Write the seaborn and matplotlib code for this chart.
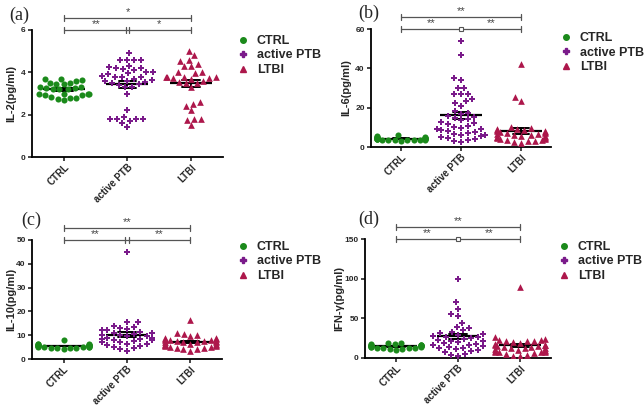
"""
Cytokine levels (IL-2, IL-6, IL-10, IFN-g) in CTRL, active PTB and LTBI groups.
Scatter dot plots with mean and SEM, 2x2 panels.
"""
import numpy as np
import pandas as pd
import matplotlib
matplotlib.use("Agg")
import matplotlib.pyplot as plt
from matplotlib.lines import Line2D
import seaborn as sns

sns.set_style("ticks")
plt.rcParams["font.family"] = ["Liberation Sans", "DejaVu Sans"]

W, H = 644, 408

groups = ["CTRL", "active PTB", "LTBI"]
colors = ["#1b8a1b", "#7a1a8a", "#ad174b"]
markers = ["o", "P", "^"]
sizes = [4.4, 4.8, 4.8]

# IL-2 (pg/ml)
ctrl_il2 = [3.7, 3.7, 3.65, 3.6, 3.5, 3.5, 3.45, 3.45, 3.3, 3.3, 3.25, 3.25, 3.2,
            3.2, 3.2, 3.0, 3.0, 3.0, 3.0, 2.95, 2.95, 2.85, 2.8, 2.8, 2.75, 2.7]
ptb_il2 = [4.9, 4.6, 4.6, 4.6, 4.6, 4.3, 4.25, 4.2, 4.2, 4.15, 4.1, 4.0, 4.0, 3.95,
           3.9, 3.85, 3.8, 3.8, 3.8, 3.7, 3.65, 3.6, 3.6, 3.55, 3.5, 3.45, 3.4, 3.3,
           3.3, 3.0, 2.2, 1.9, 1.8, 1.8, 1.8, 1.8, 1.7, 1.6, 1.4]
ltbi_il2 = [5.0, 4.8, 4.6, 4.55, 4.4, 4.3, 4.3, 4.0, 4.0, 3.95, 3.8, 3.8, 3.8, 3.8,
            3.75, 3.75, 3.7, 3.6, 3.55, 3.5, 3.5, 3.3, 2.6, 2.5, 2.4, 2.2, 1.8, 1.8,
            1.75, 1.5]

# IL-6 (pg/ml)
ctrl_il6 = [6.0, 5.5, 5.2, 5.0, 5.0, 4.8, 4.6, 4.5, 4.5, 4.4, 4.3, 4.2, 4.2, 4.1,
            4.0, 4.0, 3.9, 3.8, 3.8, 3.7, 3.6, 3.5, 3.5, 3.4, 3.2]
ptb_il6 = [54, 47, 35, 34, 30, 30, 27, 27, 27, 24.5, 23.5, 22.5, 21, 18.5, 17.5, 17,
           16, 15.5, 15, 14, 13.5, 12.5, 12, 11.5, 10.5, 10, 9.5, 9, 9, 8.5, 8, 7.5,
           7, 6.5, 6, 6, 5.5, 5, 4.5, 4, 3.5, 3, 2.5]
ltbi_il6 = [42, 25.5, 23.5, 10, 9.5, 9, 9, 8.5, 8.5, 8, 8, 7.5, 7.5, 7, 7, 6.5, 6.5,
            6, 6, 5.5, 5.5, 5, 5, 5, 4.5, 4.5, 4, 4, 3.5, 3.5, 3, 3, 2.5, 2]

# IL-10 (pg/ml)
ctrl_il10 = [7.8, 6.5, 6.3, 6.2, 6.0, 6.0, 5.8, 5.8, 5.7, 5.6, 5.5, 5.5, 5.4, 5.3,
             5.2, 5.2, 5.0, 5.0, 4.9, 4.8, 4.7, 4.5, 4.5, 4.3]
ptb_il10 = [45, 15.7, 15.5, 14, 13.5, 13, 12.5, 12, 12, 11.5, 11, 11, 10.5, 10, 10,
            10, 9.5, 9.5, 9, 9, 8.5, 8.5, 8, 8, 7.5, 7, 7, 6.5, 6.5, 6, 5.5, 5, 4.5,
            4, 3.5]
ltbi_il10 = [16.5, 11, 10.5, 10, 9.5, 9, 9, 8.5, 8.5, 8, 8, 8, 7.5, 7.5, 7.5, 7, 7,
             7, 7, 6.5, 6.5, 6.5, 6, 6, 6, 5.5, 5.5, 5, 5, 4.5, 4.5, 4, 4, 3.5]

# IFN-g (pg/ml)
ctrl_ifn = [19, 18.5, 18, 17.5, 17, 17, 16.5, 16, 16, 15.5, 15.5, 15, 15, 15, 14.5,
            14, 14, 13.5, 13, 13, 12.5, 12, 11.5, 11, 10]
ptb_ifn = [99, 70, 62, 55, 53, 44, 39, 38, 35, 33, 31, 30, 29, 28, 27, 26, 25, 24,
           23, 22, 21, 20, 19, 18, 17, 16, 15, 14, 13, 12, 11, 10, 9, 7, 5, 4, 3]
ltbi_ifn = [90, 26, 24, 23, 23, 22, 22, 21, 20, 19, 18, 17, 17, 16, 15, 15, 14, 14,
            13, 12, 12, 11, 10, 10, 9, 9, 8, 8, 7, 7, 6, 5, 4, 3, 2]

# panel layout in pixels: axes (left, top, right, bottom), tag, legend corner
panels = [
    dict(values=[ctrl_il2, ptb_il2, ltbi_il2], ylabel="IL-2(pg/ml)", ymax=6, step=2,
         tag="(a)", stars=["**", "*", "*"], mid_box=False,
         rect=(32, 30, 223, 157), tag_xy=(19, 15), leg_xy=(238, 35), lab_x=16),
    dict(values=[ctrl_il6, ptb_il6, ltbi_il6], ylabel="IL-6(pg/ml)", ymax=60, step=20,
         tag="(b)", stars=["**", "**", "**"], mid_box=True,
         rect=(371, 29, 551, 147), tag_xy=(369, 13), leg_xy=(561, 32), lab_x=351),
    dict(values=[ctrl_il10, ptb_il10, ltbi_il10], ylabel="IL-10(pg/ml)", ymax=50, step=10,
         tag="(c)", stars=["**", "**", "**"], mid_box=False,
         rect=(32, 240, 222, 359), tag_xy=(31, 220), leg_xy=(238, 241), lab_x=16),
    dict(values=[ctrl_ifn, ptb_ifn, ltbi_ifn], ylabel="IFN-γ(pg/ml)", ymax=150, step=50,
         tag="(d)", stars=["**", "**", "**"], mid_box=True,
         rect=(365, 239, 551, 358), tag_xy=(369, 219), leg_xy=(559, 241), lab_x=344),
]


def make_df(values):
    rows = [(g, v) for g, vals in zip(groups, values) for v in vals]
    return pd.DataFrame(rows, columns=["group", "value"])


def draw_brackets(ax, h_px, stars, mid_box):
    trans = ax.get_xaxis_transform()
    grey = "#555555"
    low, up = 1.0, 1.0 + 12 / h_px
    tick = 3 / h_px
    for y in (low, up):
        ax.plot([0, 2], [y, y], transform=trans, clip_on=False, color=grey, lw=0.9)
        for x in (0, 2):
            ax.plot([x, x], [y - tick, y + tick], transform=trans, clip_on=False,
                    color=grey, lw=0.9)
    if mid_box:
        ax.plot(1, low, marker="s", ms=3, mfc="white", mec=grey, mew=0.8,
                transform=trans, clip_on=False)
    else:
        for x in (0.975, 1.025):
            ax.plot([x, x], [low - tick, low + tick], transform=trans, clip_on=False,
                    color=grey, lw=0.9)
    kw = dict(transform=trans, ha="center", va="bottom", fontsize=8, color="#444444")
    ax.text(0.5, low + 0.5 / h_px, stars[0], **kw)
    ax.text(1.5, low + 0.5 / h_px, stars[1], **kw)
    ax.text(1.0, up + 0.5 / h_px, stars[2], **kw)


def draw_panel(fig, p):
    l, t, r, b = p["rect"]
    ax = fig.add_axes([l / W, 1 - b / H, (r - l) / W, (b - t) / H])
    df = make_df(p["values"])
    for g, c, m, s in zip(groups, colors, markers, sizes):
        sns.swarmplot(data=df[df["group"] == g], x="group", y="value", order=groups,
                      color=c, marker=m, size=s, linewidth=0, ax=ax)
    sns.pointplot(data=df, x="group", y="value", order=groups, errorbar="se",
                  capsize=0.28, color="black", linestyle="none", marker="_",
                  markersize=30, markeredgewidth=1.6, err_kws={"linewidth": 1.4}, ax=ax)

    ax.set_xlim(-0.5, 2.5)
    ax.set_ylim(0, p["ymax"])
    ax.set_yticks(np.arange(0, p["ymax"] + p["step"] / 2, p["step"]))
    ax.set_xlabel("")
    ax.set_ylabel(p["ylabel"], fontsize=8, fontweight="bold")
    ax.yaxis.set_label_coords((p["lab_x"] - l) / (r - l), 0.5)
    ax.set_xticks(range(3))
    ax.set_xticklabels(groups, rotation=45, ha="right", rotation_mode="anchor")
    for lab in ax.get_xticklabels():
        lab.set_fontweight("bold")
        lab.set_fontsize(7)
    for lab in ax.get_yticklabels():
        lab.set_fontweight("bold")
        lab.set_fontsize(6)
    sns.despine(ax=ax)
    for s in ("left", "bottom"):
        ax.spines[s].set_linewidth(1.3)
        ax.spines[s].set_color("black")
    ax.tick_params(direction="out", length=3, width=1.2, pad=1.5)
    ax.tick_params(axis="x", pad=0.8)

    draw_brackets(ax, b - t, p["stars"], p["mid_box"])

    fig.text(p["tag_xy"][0] / W, 1 - p["tag_xy"][1] / H, p["tag"],
             family="Liberation Serif", fontsize=13, ha="center", va="center")

    handles = [Line2D([], [], marker=m, color=c, linestyle="none", markersize=4)
               for c, m in zip(colors, markers)]
    lx, ly = p["leg_xy"]
    ax.legend(handles, groups, loc="upper left", bbox_to_anchor=(lx / W, 1 - ly / H),
              bbox_transform=fig.transFigure, frameon=False,
              prop={"weight": "bold", "size": 9}, handlelength=0.8,
              handletextpad=0.7, labelspacing=0.2, borderpad=0, borderaxespad=0)
    return ax


def main():
    fig = plt.figure(figsize=(W / 100, H / 100), dpi=100)
    for p in panels:
        draw_panel(fig, p)
    fig.savefig("out.png", dpi=100)
    plt.close(fig)


if __name__ == "__main__":
    main()
